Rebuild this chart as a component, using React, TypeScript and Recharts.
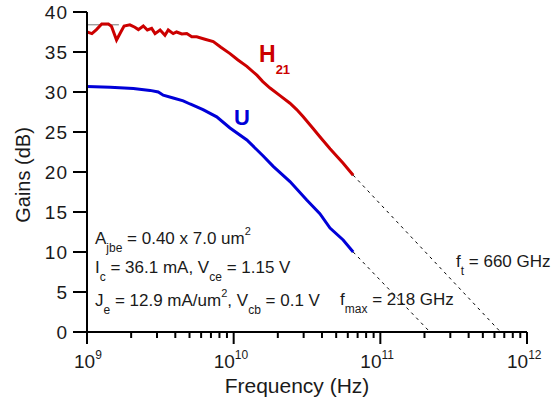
import React from 'react';
import { LineChart, Line, XAxis, YAxis, ReferenceLine } from 'recharts';

const FONT = "'Liberation Sans', Arial, sans-serif";
const RED = '#cc0000';
const BLUE = '#0000d8';

// measured H21 (current gain), frequency in Hz, gain in dB
const h21Freq = [
  1.0e9, 1.08e9, 1.16e9, 1.26e9, 1.4e9, 1.47e9, 1.59e9, 1.7e9, 1.79e9, 1.96e9,
  2.12e9, 2.24e9, 2.42e9, 2.58e9, 2.76e9, 2.91e9, 3.15e9, 3.4e9, 3.58e9, 3.87e9,
  4.08e9, 4.43e9, 4.79e9, 5.18e9, 5.6e9, 6.37e9, 7.26e9, 8.18e9, 9.44e9, 1.07e10,
  1.23e10, 1.44e10, 1.58e10, 1.77e10, 2.07e10, 2.42e10, 2.69e10, 2.98e10, 3.49e10,
  3.87e10, 4.54e10, 5.58e10, 6.53e10,
];
const h21Gain = [
  37.5, 37.3, 37.8, 38.5, 38.5, 38.2, 36.5, 37.5, 38.25, 38.4,
  38.1, 37.8, 38.25, 37.75, 37.95, 37.3, 37.75, 37.1, 37.75, 37.3,
  37.5, 37.25, 37.3, 36.9, 36.9, 36.6, 36.3, 35.6, 34.8, 34.0,
  33.2, 32.1, 31.3, 30.5, 29.55, 28.6, 27.8, 26.9, 25.4,
  24.4, 22.9, 21.1, 19.6,
];

// measured U (unilateral power gain)
const uFreq = [
  1.0e9, 1.44e9, 2.07e9, 2.69e9, 3.06e9, 3.31e9, 3.87e9, 4.53e9, 5.04e9, 6.18e9,
  7.66e9, 9.44e9, 1.23e10, 1.59e10, 1.86e10, 2.42e10, 3.15e10, 3.87e10, 4.54e10,
  5.58e10, 6.53e10,
];
const uGain = [
  30.7, 30.6, 30.45, 30.2, 30.0, 29.6, 29.25, 28.9, 28.5, 27.8,
  26.9, 25.5, 24.0, 22.0, 20.7, 18.8, 16.5, 14.8, 13.0,
  11.5, 10.0,
];

// -20 dB/dec extrapolations to 0 dB
const ft = 6.6e11;
const fmax = 2.18e11;

const yTicks = [0, 5, 10, 15, 20, 25, 30, 35, 40];
const decades = [1e9, 1e10, 1e11];
const minorSteps = [1, 2, 3, 4, 5, 6, 7, 8, 9];
const xTicks = [...decades.flatMap((d) => minorSteps.map((m) => m * d)), 1e12];

const h21Data = h21Freq.map((f, i) => ({ f, g: h21Gain[i] }));
const uData = uFreq.map((f, i) => ({ f, g: uGain[i] }));
const h21Extrap = [
  { f: h21Freq[h21Freq.length - 1], g: h21Gain[h21Gain.length - 1] },
  { f: ft, g: 0 },
];
const uExtrap = [
  { f: uFreq[uFreq.length - 1], g: uGain[uGain.length - 1] },
  { f: fmax, g: 0 },
];

const FreqTick = (props: any) => {
  const { x, y, payload } = props;
  const v = payload.value;
  const exp = Math.round(Math.log10(v));
  const major = Math.abs(v - Math.pow(10, exp)) < 1e-6 * v;
  return (
    <g>
      <line x1={x} x2={x} y1={y} y2={y + (major ? 12 : 6)} stroke="#000" strokeWidth={2} />
      {major && (
        <text x={exp === 9 ? x - 13 : x - 20} y={y + 36} fontSize={19} fontFamily={FONT} fill="#1a1a1a">
          10
          <tspan dy={-9} fontSize={12}>
            {exp}
          </tspan>
        </text>
      )}
    </g>
  );
};

const sub = (s: string, size = 12) => (
  <tspan dy={8} fontSize={size}>
    {s}
  </tspan>
);

export default function App() {
  return (
    <div style={{ position: 'relative', width: 559, height: 408 }}>
      <style>{'body{margin:0}'}</style>
      <LineChart width={559} height={408} margin={{ top: 12, right: 32, bottom: 0, left: 0 }}>
        <XAxis
          dataKey="f"
          type="number"
          scale="log"
          domain={[1e9, 1e12]}
          ticks={xTicks}
          interval={0}
          tick={<FreqTick />}
          tickLine={false}
          tickSize={0}
          tickMargin={0}
          height={76}
          axisLine={{ stroke: '#000', strokeWidth: 2 }}
          allowDataOverflow
        />
        <YAxis
          type="number"
          domain={[0, 40]}
          ticks={yTicks}
          interval={0}
          width={87}
          tickSize={14}
          tickMargin={5}
          tickLine={{ stroke: '#000', strokeWidth: 2 }}
          axisLine={{ stroke: '#000', strokeWidth: 2 }}
          tick={{ fill: '#1a1a1a', fontSize: 19, fontFamily: FONT, letterSpacing: 1 }}
        />
        <ReferenceLine
          segment={[
            { x: 1e9, y: 38.4 },
            { x: 1.65e9, y: 38.4 },
          ]}
          stroke="#777"
          strokeWidth={1}
        />
        <Line data={h21Extrap} dataKey="g" stroke="#000" strokeWidth={1} strokeDasharray="3 4" dot={false} isAnimationActive={false} />
        <Line data={uExtrap} dataKey="g" stroke="#000" strokeWidth={1} strokeDasharray="3 4" dot={false} isAnimationActive={false} />
        <Line data={h21Data} dataKey="g" stroke={RED} strokeWidth={3} dot={false} isAnimationActive={false} />
        <Line data={uData} dataKey="g" stroke={BLUE} strokeWidth={3} dot={false} isAnimationActive={false} />
      </LineChart>
      <svg
        width={559}
        height={408}
        style={{ position: 'absolute', left: 0, top: 0, pointerEvents: 'none' }}
        fontFamily={FONT}
      >
        <text transform="rotate(-90)" x={-175} y={30} textAnchor="middle" fontSize={20} fill="#1a1a1a">
          Gains (dB)
        </text>
        <text x={297} y={393} textAnchor="middle" fontSize={21} fill="#1a1a1a">
          Frequency (Hz)
        </text>
        <text x={259} y={62} fontSize={23} fontWeight="bold" fill={RED}>
          H
          <tspan dy={12} fontSize={13}>
            21
          </tspan>
        </text>
        <text x={234} y={125} fontSize={22} fontWeight="bold" fill={BLUE}>
          U
        </text>
        <g fontSize={17} fill="#1a1a1a">
          <text x={95} y={244}>
            A{sub('jbe')}
            <tspan dy={-8}> = 0.40 x 7.0 um</tspan>
            <tspan dy={-9} fontSize={11}>
              2
            </tspan>
          </text>
          <text x={95} y={273}>
            I{sub('c')}
            <tspan dy={-8}> = 36.1 mA, V</tspan>
            {sub('ce')}
            <tspan dy={-8}> = 1.15 V</tspan>
          </text>
          <text x={95} y={306}>
            J{sub('e')}
            <tspan dy={-8}> = 12.9 mA/um</tspan>
            <tspan dy={-9} fontSize={11}>
              2
            </tspan>
            <tspan dy={9}>, V</tspan>
            {sub('cb')}
            <tspan dy={-8}> = 0.1 V</tspan>
          </text>
          <text x={340} y={305}>
            f{sub('max')}
            <tspan dy={-8}> = 218 GHz</tspan>
          </text>
          <text x={456} y={267}>
            f{sub('t')}
            <tspan dy={-8}> = 660 GHz</tspan>
          </text>
        </g>
      </svg>
    </div>
  );
}
